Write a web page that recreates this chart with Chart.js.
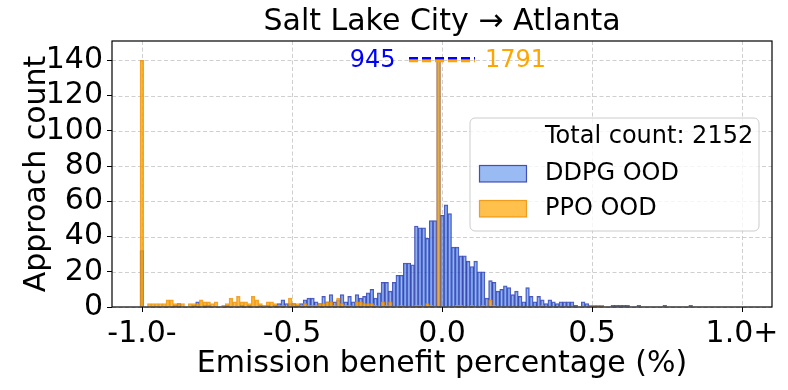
<!DOCTYPE html>
<html>
<head>
<meta charset="utf-8">
<script src="https://cdn.jsdelivr.net/npm/chart.js@4/dist/chart.umd.min.js"></script>
<style>
  html, body { margin: 0; padding: 0; background: #fff; }
  #wrap { width: 788px; height: 390px; }
</style>
</head>
<body>
<div id="wrap"><canvas id="chart" width="788" height="390"></canvas></div>
<script>
// ---- data ----
const titleText = 'Salt Lake City \u2192 Atlanta';
const xLabel = 'Emission benefit percentage (%)';
const yLabel = 'Approach count';

// histogram bins: left edge of the first bin and bin width
const binStart = -1.0065;
const binWidth = 0.01236;

const ddpgCounts = [
  32, 0, 0, 0, 0, 0, 0, 0, 0, 1,
  2, 0, 0, 0, 1, 3, 0, 1, 1, 0,
  0, 0, 0, 1, 0, 0, 0, 1, 0, 1,
  0, 0, 1, 0, 1, 0, 1, 2, 4, 2,
  2, 2, 1, 2, 4, 5, 5, 3, 2, 6,
  3, 7, 3, 4, 7, 3, 6, 3, 7, 5,
  6, 8, 10, 5, 8, 14, 14, 9, 14, 18,
  18, 25, 25, 24, 46, 45, 45, 39, 49, 49,
  945, 52, 58, 53, 34, 34, 29, 29, 26, 23,
  26, 20, 20, 5, 15, 14, 9, 10, 12, 11,
  7, 9, 6, 3, 11, 6, 3, 6, 4, 2,
  4, 3, 2, 3, 3, 3, 3, 1, 0, 3,
  2, 1, 1, 1, 1, 0, 0, 1, 1, 1,
  1, 1, 0, 0, 1, 0, 0, 0, 0, 0,
  0, 1, 0, 0, 0, 0, 0, 0, 1, 0,
  0, 0, 0, 0, 0, 0, 0, 0, 0, 0,
  0, 0, 0
];

const ppoCounts = [
  140, 0, 2, 2, 2, 2, 2, 4, 4, 2,
  2, 2, 0, 2, 2, 2, 4, 3, 3, 2,
  3, 0, 1, 2, 5, 3, 6, 3, 3, 2,
  6, 4, 2, 1, 3, 3, 2, 1, 1, 0,
  5, 2, 2, 1, 2, 1, 1, 1, 2, 2,
  3, 3, 1, 5, 2, 1, 1, 0, 3, 3,
  2, 2, 2, 1, 0, 3, 1, 3, 0, 0,
  1, 0, 0, 0, 1, 1, 0, 2, 1, 0,
  1791, 0, 0, 0, 0, 1, 1, 0, 0, 1,
  0, 0, 1, 0, 4, 1, 0, 0, 0, 0,
  0, 0, 0, 0, 0, 0, 0, 0, 1, 0,
  0, 0, 0, 0, 0, 0, 0, 0, 0, 0,
  0, 1, 1, 1, 1, 0, 0, 0, 0, 0,
  0, 0, 0, 0, 0, 0, 0, 0, 0, 0,
  0, 0, 0, 0, 0, 0, 0, 0, 0, 0,
  0, 0, 0, 0, 0, 0, 0, 0, 0, 0,
  0, 0, 0
];

const seriesNames = ['DDPG OOD', 'PPO OOD'];
const totalCount = 2152;
const yCap = 140;          // bars above this are cut and labelled
const yMax = 151;
const xMin = -1.1, xMax = 1.1;
const xTickValues = [-1, -0.5, 0, 0.5, 1];
const xTickLabels = ['-1.0-', '-0.5', '0.0', '0.5', '1.0+'];
const yTickValues = [0, 20, 40, 60, 80, 100, 120, 140];
// where the cut-off marker sits (x range of dashes, text anchors)
const capLineX = [-0.11, 0.11];
const capTextX = [-0.155, 0.143];

const colors = {
  ddpgFill: 'rgba(100, 149, 237, 0.65)',
  ddpgEdge: 'rgba(30, 45, 170, 0.8)',
  ppoFill: 'rgba(255, 165, 0, 0.7)',
  ppoEdge: 'rgba(235, 140, 0, 0.8)',
  grid: 'rgba(175, 175, 175, 0.6)'
};
const FONT = '"DejaVu Sans", "Liberation Sans", sans-serif';

// ---- build ----
const binCenters = ddpgCounts.map((_, i) => binStart + (i + 0.5) * binWidth);
const toPoints = (counts) => counts.map((c, i) => ({ x: binCenters[i], y: Math.min(c, yCap) }));

const decor = {
  id: 'decor',
  beforeDatasetsDraw(chart) {
    // dashed grid, only at the labelled ticks
    const { ctx, chartArea: a, scales: { x, y } } = chart;
    ctx.save();
    ctx.strokeStyle = colors.grid;
    ctx.lineWidth = 1;
    ctx.setLineDash([4, 2.5]);
    xTickValues.forEach(v => {
      const px = Math.round(x.getPixelForValue(v)) + 0.5;
      ctx.beginPath(); ctx.moveTo(px, a.top); ctx.lineTo(px, a.bottom); ctx.stroke();
    });
    yTickValues.forEach(v => {
      const py = Math.round(y.getPixelForValue(v)) + 0.5;
      ctx.beginPath(); ctx.moveTo(a.left, py); ctx.lineTo(a.right, py); ctx.stroke();
    });
    ctx.restore();
  },
  afterDatasetsDraw(chart) {
    const { ctx, chartArea: a, scales: { x, y } } = chart;
    ctx.save();
    // cut-off markers
    const ddpgPeak = Math.max(...ddpgCounts);
    const ppoPeak = Math.max(...ppoCounts.slice(1));
    const yy = y.getPixelForValue(yCap);
    ctx.setLineDash([9, 4]);
    ctx.lineWidth = 2.8;
    ctx.strokeStyle = 'orange';
    ctx.beginPath();
    ctx.moveTo(x.getPixelForValue(capLineX[0]), yy + 0.5);
    ctx.lineTo(x.getPixelForValue(capLineX[1]), yy + 0.5);
    ctx.stroke();
    ctx.strokeStyle = 'blue';
    ctx.lineWidth = 2.4;
    ctx.beginPath();
    ctx.moveTo(x.getPixelForValue(capLineX[0]), yy - 2.2);
    ctx.lineTo(x.getPixelForValue(capLineX[1]), yy - 2.2);
    ctx.stroke();
    ctx.setLineDash([]);
    ctx.font = '24px ' + FONT;
    ctx.textBaseline = 'middle';
    ctx.fillStyle = 'blue';
    ctx.textAlign = 'right';
    ctx.fillText(String(ddpgPeak), x.getPixelForValue(capTextX[0]), yy);
    ctx.fillStyle = 'orange';
    ctx.textAlign = 'left';
    ctx.fillText(String(ppoPeak), x.getPixelForValue(capTextX[1]), yy);

    // legend
    const lx = 470, ly = 118, lw = 289, lh = 113;
    ctx.beginPath();
    ctx.roundRect(lx, ly, lw, lh, 5);
    ctx.fillStyle = 'rgba(255,255,255,0.8)';
    ctx.fill();
    ctx.strokeStyle = '#cccccc';
    ctx.lineWidth = 1;
    ctx.stroke();
    ctx.fillStyle = '#000';
    ctx.font = '24px ' + FONT;
    ctx.textAlign = 'left';
    ctx.fillText('Total count: ' + totalCount, 545, 137);
    const patches = [[colors.ddpgFill, colors.ddpgEdge, 165.5], [colors.ppoFill, colors.ppoEdge, 200.5]];
    patches.forEach(([f, e, py], i) => {
      ctx.fillStyle = '#fff';
      ctx.fillRect(479.5, py, 47, 16.5);
      ctx.fillStyle = f;
      ctx.fillRect(479.5, py, 47, 16.5);
      ctx.strokeStyle = e;
      ctx.lineWidth = 1.2;
      ctx.strokeRect(479.5, py, 47, 16.5);
      ctx.fillStyle = '#000';
      ctx.fillText(seriesNames[i], 545, py + 8.5);
    });

    // frame
    ctx.strokeStyle = '#000';
    ctx.lineWidth = 1.2;
    ctx.strokeRect(a.left, a.top, a.right - a.left, a.bottom - a.top);

    // title + axis titles
    ctx.fillStyle = '#000';
    ctx.font = '30px ' + FONT;
    ctx.textAlign = 'center';
    ctx.textBaseline = 'middle';
    ctx.fillText(titleText, (a.left + a.right) / 2, 22);
    ctx.fillText(xLabel, (a.left + a.right) / 2, 364);
    ctx.translate(37, (a.top + a.bottom) / 2);
    ctx.rotate(-Math.PI / 2);
    ctx.fillText(yLabel, 0, 0);
    ctx.restore();
  }
};

new Chart(document.getElementById('chart'), {
  type: 'bar',
  data: {
    datasets: [
      {
        label: seriesNames[1],
        data: toPoints(ppoCounts),
        backgroundColor: colors.ppoFill,
        borderColor: colors.ppoEdge,
        borderWidth: 1,
        order: 0
      },
      {
        label: seriesNames[0],
        data: toPoints(ddpgCounts),
        backgroundColor: colors.ddpgFill,
        borderColor: colors.ddpgEdge,
        borderWidth: 1,
        order: 1
      }
    ]
  },
  options: {
    responsive: false,
    animation: false,
    devicePixelRatio: 1,
    layout: { padding: { top: 41, right: 16, left: 0, bottom: 0 } },
    datasets: {
      bar: { grouped: false, barPercentage: 1, categoryPercentage: 1, borderSkipped: 'start' }
    },
    plugins: { legend: { display: false }, tooltip: { enabled: false } },
    scales: {
      x: {
        type: 'linear',
        min: xMin,
        max: xMax,
        offset: false,
        afterBuildTicks: (s) => { s.ticks = xTickValues.map(v => ({ value: v })); },
        afterFit: (s) => { s.height = 83; },
        ticks: {
          autoSkip: false,
          maxRotation: 0,
          padding: 4,
          color: '#000',
          font: { family: FONT, size: 30 },
          callback: (v) => xTickLabels[xTickValues.indexOf(v)]
        },
        grid: { offset: false, drawOnChartArea: false, tickColor: '#000', tickLength: 5, tickWidth: 1 },
        border: { display: false }
      },
      y: {
        min: 0,
        max: yMax,
        afterBuildTicks: (s) => { s.ticks = yTickValues.map(v => ({ value: v })); },
        afterFit: (s) => { s.width = 112; },
        ticks: {
          autoSkip: false,
          padding: 4,
          color: '#000',
          font: { family: FONT, size: 30 }
        },
        grid: { drawOnChartArea: false, tickColor: '#000', tickLength: 5, tickWidth: 1 },
        border: { display: false }
      }
    }
  },
  plugins: [decor]
});
</script>
</body>
</html>
